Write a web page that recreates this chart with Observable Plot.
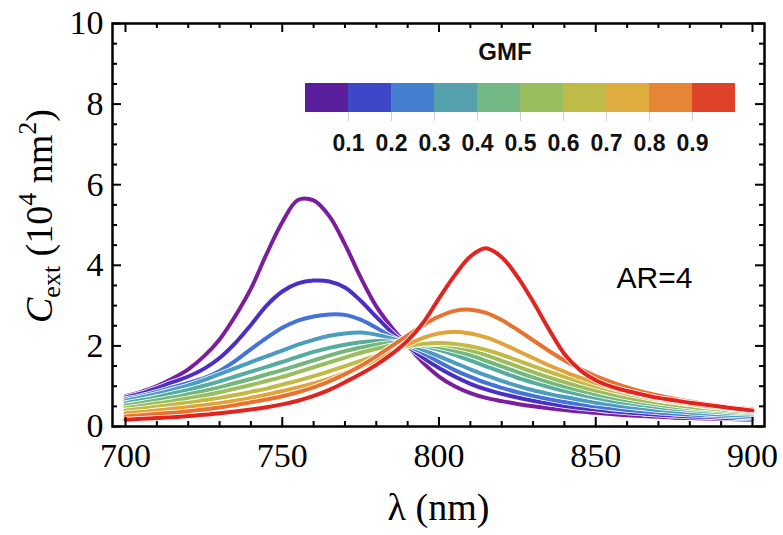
<!DOCTYPE html>
<html><head><meta charset="utf-8">
<script src="https://cdn.jsdelivr.net/npm/d3@7"></script>
<script src="https://cdn.jsdelivr.net/npm/@observablehq/plot@0.6"></script>
<style>
body{margin:0;background:#fff;}
#chart{position:relative;width:783px;height:535px;overflow:hidden;background:#fff;}
#legend{position:absolute;left:305px;top:83px;}
#gmf{position:absolute;left:505px;top:52px;transform:translate(-50%,-50%);font:bold 24px "Liberation Sans",Arial,sans-serif;color:#111;}
</style></head><body><div id="chart"><div id="gmf">GMF</div></div>
<script>
// wavelength grid (nm)
const wavelength = [700,705,710,715,720,725,730,735,740,745,750,755,760,765,770,775,780,785,790,795,800,805,810,815,820,825,830,835,840,845,850,855,860,865,870,875,880,885,890,895,900];
// C_ext (10^4 nm^2) for each GMF value
const gmf00 = [0.75,0.86,1.00,1.19,1.42,1.74,2.16,2.74,3.42,4.28,5.07,5.62,5.61,5.22,4.52,3.70,2.98,2.45,2.00,1.58,1.24,1.00,0.83,0.71,0.63,0.56,0.50,0.45,0.41,0.37,0.34,0.31,0.28,0.26,0.24,0.22,0.21,0.20,0.19,0.18,0.17];
const gmf01 = [0.72,0.82,0.95,1.10,1.24,1.43,1.70,2.07,2.52,3.00,3.35,3.55,3.62,3.60,3.45,3.12,2.72,2.33,2.00,1.70,1.45,1.24,1.06,0.92,0.81,0.72,0.64,0.57,0.51,0.46,0.42,0.38,0.35,0.32,0.29,0.27,0.25,0.24,0.22,0.21,0.20];
const gmf02 = [0.68,0.76,0.86,0.97,1.08,1.20,1.38,1.63,1.92,2.20,2.45,2.63,2.73,2.78,2.77,2.65,2.45,2.22,2.02,1.82,1.60,1.40,1.23,1.08,0.96,0.85,0.76,0.68,0.61,0.55,0.50,0.45,0.41,0.38,0.35,0.32,0.30,0.28,0.26,0.24,0.23];
const gmf03 = [0.64,0.72,0.81,0.91,1.02,1.15,1.30,1.45,1.60,1.74,1.88,2.03,2.15,2.25,2.31,2.33,2.28,2.18,2.05,1.90,1.74,1.58,1.42,1.27,1.13,1.01,0.90,0.81,0.73,0.66,0.59,0.54,0.49,0.45,0.41,0.38,0.35,0.32,0.30,0.28,0.26];
const gmf04 = [0.58,0.65,0.73,0.82,0.91,1.01,1.12,1.24,1.36,1.48,1.60,1.73,1.85,1.95,2.03,2.09,2.12,2.11,2.07,2.00,1.90,1.78,1.64,1.49,1.35,1.21,1.09,0.98,0.88,0.79,0.71,0.64,0.58,0.53,0.48,0.44,0.41,0.38,0.35,0.33,0.31];
const gmf05 = [0.52,0.58,0.65,0.72,0.80,0.88,0.97,1.08,1.18,1.29,1.40,1.52,1.64,1.76,1.87,1.96,2.03,2.07,2.07,2.04,1.97,1.88,1.77,1.63,1.49,1.35,1.22,1.10,0.99,0.89,0.80,0.72,0.65,0.59,0.54,0.49,0.45,0.42,0.39,0.36,0.34];
const gmf06 = [0.46,0.51,0.57,0.63,0.70,0.77,0.85,0.94,1.03,1.13,1.23,1.35,1.47,1.59,1.71,1.83,1.93,2.01,2.06,2.07,2.04,1.98,1.89,1.77,1.63,1.49,1.35,1.22,1.10,0.99,0.89,0.80,0.72,0.65,0.59,0.54,0.49,0.45,0.42,0.39,0.36];
const gmf07 = [0.40,0.44,0.49,0.54,0.59,0.65,0.71,0.78,0.86,0.94,1.04,1.14,1.25,1.37,1.50,1.63,1.76,1.89,1.99,2.05,2.07,2.05,1.99,1.90,1.78,1.64,1.50,1.36,1.23,1.11,1.00,0.90,0.81,0.73,0.66,0.60,0.55,0.50,0.46,0.42,0.39];
const gmf08 = [0.33,0.36,0.40,0.44,0.48,0.53,0.58,0.64,0.71,0.79,0.88,0.97,1.07,1.19,1.33,1.48,1.66,1.85,2.03,2.20,2.31,2.35,2.31,2.21,2.06,1.88,1.70,1.52,1.36,1.21,1.08,0.96,0.86,0.77,0.69,0.62,0.56,0.51,0.47,0.44,0.41];
const gmf09 = [0.25,0.28,0.31,0.34,0.38,0.42,0.47,0.53,0.60,0.67,0.75,0.85,0.97,1.12,1.30,1.50,1.74,2.00,2.26,2.52,2.73,2.87,2.90,2.82,2.64,2.40,2.14,1.88,1.64,1.43,1.25,1.10,0.97,0.86,0.77,0.69,0.62,0.56,0.51,0.46,0.43];
const gmf10 = [0.17,0.19,0.21,0.23,0.26,0.29,0.33,0.37,0.42,0.48,0.55,0.64,0.76,0.91,1.10,1.30,1.53,1.80,2.13,2.58,3.18,3.75,4.22,4.42,4.20,3.72,3.10,2.42,1.80,1.40,1.15,0.99,0.88,0.79,0.71,0.65,0.59,0.54,0.49,0.44,0.40];
const seriesValues = [gmf00,gmf01,gmf02,gmf03,gmf04,gmf05,gmf06,gmf07,gmf08,gmf09,gmf10];
const gmfLevels = [0,0.1,0.2,0.3,0.4,0.5,0.6,0.7,0.8,0.9,1.0];
const curveColors = ["#7b1e9e","#4b2ec4","#4472d6","#4c9cc0","#55ad9e","#73b77c","#9bbd5c","#c3b945","#e2a33b","#e8722f","#e32320"];

// legend
const legendThresholds = [0.1,0.2,0.3,0.4,0.5,0.6,0.7,0.8,0.9];
const legendColors = ["#5b1f9e","#3f47c9","#4480cf","#55a0ad","#73b785","#98be5d","#bebb49","#dfad3f","#e68535","#de4228"];

// axes
const xMajor = [700,750,800,850,900];
const xMinor = [710,720,730,740,760,770,780,790,810,820,830,840,860,870,880,890];
const yMajor = [0,2,4,6,8,10];
const yMinor = [0.5,1,1.5,2.5,3,3.5,4.5,5,5.5,6.5,7,7.5,8.5,9,9.5];
const xLabel = "λ (nm)";
const annotation = "AR=4";

const W = 783, H = 535, mL = 112, mR = 19, mT = 23, mB = 109;
const iw = W - mL - mR, ih = H - mT - mB;
const majLen = 9, minLen = 5;

const lineMarks = [];
seriesValues.forEach((vals, i) => {
  const rows = wavelength.map((w, j) => ({w, v: vals[j], g: gmfLevels[i]}));
  lineMarks.push(Plot.line(rows, {x: "w", y: "v", stroke: "white", strokeWidth: 5.6, curve: "catmull-rom"}));
  lineMarks.push(Plot.line(rows, {x: "w", y: "v", stroke: curveColors[i], strokeWidth: 4, curve: "catmull-rom"}));
});

const plot = Plot.plot({
  width: W, height: H,
  marginLeft: mL, marginRight: mR, marginTop: mT, marginBottom: mB,
  style: {fontFamily: "'Liberation Serif', 'Times New Roman', serif", fontSize: "34px", color: "#000", background: "white"},
  x: {domain: [695.85, 903.83]},
  y: {domain: [0, 10]},
  marks: [
    ...lineMarks,
    Plot.axisX({ticks: xMajor, tickSize: 0, tickPadding: 16, label: null, fontSize: 34}),
    Plot.axisY({ticks: yMajor, tickSize: 0, tickPadding: 9, label: null, fontSize: 34}),
    Plot.tickX(xMajor, {x: d => d, insetTop: ih - majLen, strokeWidth: 2}),
    Plot.tickX(xMajor, {x: d => d, insetBottom: ih - majLen, strokeWidth: 2}),
    Plot.tickX(xMinor, {x: d => d, insetTop: ih - minLen, strokeWidth: 2}),
    Plot.tickX(xMinor, {x: d => d, insetBottom: ih - minLen, strokeWidth: 2}),
    Plot.tickY(yMajor, {y: d => d, insetRight: iw - majLen, strokeWidth: 2}),
    Plot.tickY(yMajor, {y: d => d, insetLeft: iw - majLen, strokeWidth: 2}),
    Plot.tickY(yMinor, {y: d => d, insetRight: iw - minLen, strokeWidth: 2}),
    Plot.tickY(yMinor, {y: d => d, insetLeft: iw - minLen, strokeWidth: 2}),
    Plot.frame({stroke: "black", strokeWidth: 2.5}),
    Plot.text([annotation], {frameAnchor: "right", dx: -72, dy: 53, textAnchor: "end", fontFamily: "'Liberation Sans', Arial, sans-serif", fontSize: 30}),
    Plot.text([xLabel], {frameAnchor: "bottom", dy: 93, fontSize: 38})
  ]
});

// y-axis label with italic C, subscript and superscripts
const svg = d3.select(plot);
const yl = svg.append("text")
  .attr("transform", "translate(52,216) rotate(-90)")
  .attr("text-anchor", "middle")
  .attr("font-size", 38)
  .attr("font-family", "'Liberation Serif', 'Times New Roman', serif")
  .attr("fill", "#000");
yl.append("tspan").attr("font-style", "italic").text("C");
yl.append("tspan").attr("font-size", 26).attr("dy", 8).text("ext");
yl.append("tspan").attr("dy", -8).text("\u00a0(10");
yl.append("tspan").attr("font-size", 26).attr("dy", -16).text("4");
yl.append("tspan").attr("dy", 16).text("\u00a0nm");
yl.append("tspan").attr("font-size", 26).attr("dy", -16).text("2");
yl.append("tspan").attr("dy", 16).text(")");

document.getElementById("chart").prepend(plot);

const legend = Plot.legend({
  color: {type: "threshold", domain: legendThresholds, range: legendColors},
  label: null,
  width: 430, height: 70, marginTop: 0, marginBottom: 41, marginLeft: 0, marginRight: 0,
  tickSize: 9,
  tickFormat: d => d.toFixed(1),
  style: {fontFamily: "'Liberation Sans', Arial, sans-serif", fontSize: "23px", fontWeight: "bold", overflow: "visible", background: "transparent", color: "#111"}
});
const lg = d3.select(legend);
lg.selectAll(".tick line").attr("y1", 0).attr("y2", 9).attr("stroke", "#cfcfcf").attr("stroke-width", 1);
lg.selectAll(".tick text").attr("y", 23).attr("font-weight", "bold");
const holder = document.createElement("div");
holder.id = "legend";
holder.appendChild(legend);
document.getElementById("chart").appendChild(holder);
</script>
</body></html>
